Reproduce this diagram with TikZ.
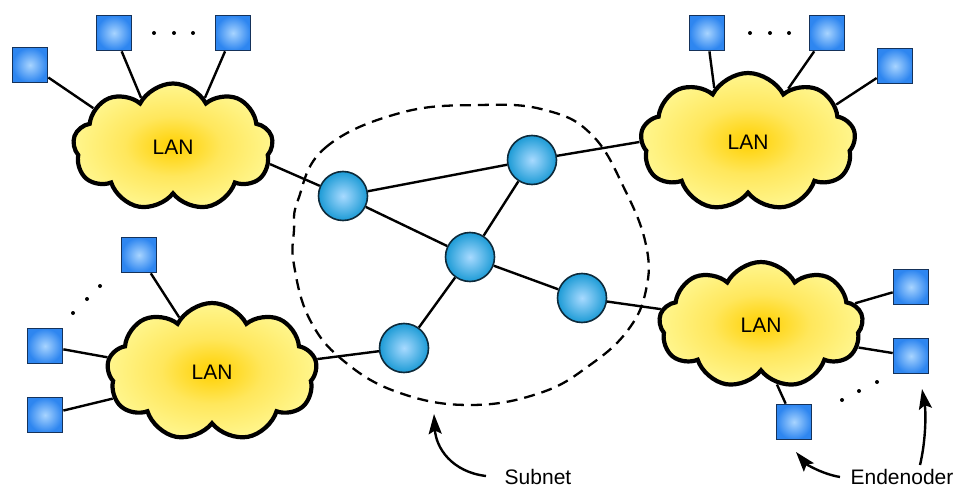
\documentclass[tikz,border=0pt]{standalone}
\usepackage{fontspec}
\setmainfont{Liberation Sans}
\usetikzlibrary{shapes.symbols,arrows.meta,backgrounds}

\definecolor{lancore}{HTML}{FFD000}
\definecolor{lanmid}{HTML}{FFE75C}
\definecolor{lanedge}{HTML}{FFF68E}
\definecolor{hostcore}{HTML}{A8D4FF}
\definecolor{hostedge}{HTML}{2E86F0}
\definecolor{hostline}{HTML}{15325A}
\definecolor{routercore}{HTML}{A8DAFF}
\definecolor{routeredge}{HTML}{1C9BD6}
\definecolor{routerline}{HTML}{0E2A3A}

\pgfdeclareradialshading{lanshade}{\pgfpointorigin}{%
  color(0bp)=(lancore); color(12bp)=(lanmid); color(25bp)=(lanedge); color(50bp)=(lanedge)}
\pgfdeclareradialshading{hostshade}{\pgfpointorigin}{%
  color(0bp)=(hostcore); color(25bp)=(hostedge); color(50bp)=(hostedge)}
\pgfdeclareradialshading{routershade}{\pgfpointorigin}{%
  color(0bp)=(routercore); color(25bp)=(routeredge); color(50bp)=(routeredge)}

\begin{document}
\begin{tikzpicture}[x=1pt,y=-1pt,
  lan/.style={cloud, cloud puffs=9, cloud puff arc=125, cloud ignores aspect,
    draw=black, line width=4.2pt, shade, shading=lanshade, inner sep=0pt,
    font=\fontsize{21}{24}\selectfont},
  host/.style={rectangle, draw=hostline, line width=1.7pt, minimum size=35pt,
    inner sep=0pt, shade, shading=hostshade},
  router/.style={circle, draw=routerline, line width=1.6pt, minimum size=49pt,
    inner sep=0pt, shade, shading=routershade},
  link/.style={line width=2.4pt},
  subnetline/.style={line width=2.3pt, dash pattern=on 11pt off 7pt},
  pointer/.style={line width=2.4pt, -{Stealth[length=20pt,width=13pt,inset=3.5pt]}},
  tag/.style={font=\fontsize{21}{24}\selectfont, inner sep=0pt},
  dot/.style={fill=black}
]
\useasboundingbox (0,0) rectangle (957,489);

% LAN clouds
\node[lan, minimum width=200pt, minimum height=127pt] (lanA) at (173,147) {LAN};
\node[lan, minimum width=210pt, minimum height=138pt] (lanB) at (212,372) {LAN};
\node[lan, minimum width=215pt, minimum height=138pt] (lanC) at (748,142) {LAN};
\node[lan, minimum width=204pt, minimum height=126pt] (lanD) at (761,325) {LAN};

% end hosts
\node[host] (hA1) at (30,65) {};
\node[host] (hA2) at (114,33) {};
\node[host] (hA3) at (233,33) {};
\node[host] (hB1) at (139,255) {};
\node[host] (hB2) at (45,346) {};
\node[host] (hB3) at (45,415) {};
\node[host] (hC1) at (707,33) {};
\node[host] (hC2) at (827,33) {};
\node[host] (hC3) at (895,66) {};
\node[host] (hD1) at (911,287) {};
\node[host] (hD2) at (911,356) {};
\node[host] (hD3) at (794,422) {};

% routers of the subnet
\node[router] (r1) at (343,196) {};
\node[router] (r2) at (532,160) {};
\node[router] (r3) at (470,257) {};
\node[router] (r4) at (582,298) {};
\node[router] (r5) at (404,348) {};

\begin{scope}[on background layer]
  % hosts to their LANs
  \draw[link] (hA1) -- (lanA.154);
  \draw[link] (hA2) -- (lanA.123);
  \draw[link] (hA3) -- (lanA.57);
  \draw[link] (hB1) -- (lanB.121);
  \draw[link] (hB2) -- (lanB.172);
  \draw[link] (hB3) -- (lanB.195);
  \draw[link] (hC1) -- (lanC.122);
  \draw[link] (hC2) -- (lanC.53);
  \draw[link] (hC3) -- (lanC.23);
  \draw[link] (hD1) -- (lanD.13);
  \draw[link] (hD2) -- (lanD.-13);
  \draw[link] (hD3) -- (lanD.-75);
  % subnet links
  \draw[link] (lanA.-10) -- (r1);
  \draw[link] (r1) -- (r2);
  \draw[link] (r1) -- (r3);
  \draw[link] (r2) -- (r3);
  \draw[link] (r3) -- (r4);
  \draw[link] (r3) -- (r5);
  \draw[link] (r2) -- (lanC.180);
  \draw[link] (r4) -- (lanD.171);
  \draw[link] (r5) -- (lanB.7);
\end{scope}

% subnet boundary
\draw[subnetline] plot[smooth cycle, tension=0.7] coordinates {
  (298,200) (325,148) (400,113) (480,105) (545,110) (592,135) (625,190)
  (646,245) (646,290) (628,330) (590,365) (540,393) (470,405) (400,393)
  (345,362) (310,320) (294,265) (294,230)};

% ellipsis dots
\foreach \p in {(154,33),(174,33),(193,33),
                (100,286),(87,299),(73,313),
                (750,33),(770,33),(789,33),
                (877,382),(859,391),(842,400)}
  \fill[dot] \p circle (2pt);

% labels and pointers
\node[tag] (subnetlbl) at (538,477) {Subnet};
\coordinate (subnettail) at (486,476);
\coordinate (subnettip) at (434,414);
\draw[pointer] (subnettail) .. controls (452,472) and (436,448) .. (subnettip);

\node[tag] (hostlbl) at (902,477) {Endenoder};
\coordinate (hosttailA) at (840,477);
\coordinate (hosttipA) at (796,452);
\draw[pointer] (hosttailA) .. controls (822,474) and (806,464) .. (hosttipA);
\coordinate (hosttailB) at (920,465);
\coordinate (hosttipB) at (922,389);
\draw[pointer] (hosttailB) .. controls (926,440) and (926,412) .. (hosttipB);
\end{tikzpicture}
\end{document}
